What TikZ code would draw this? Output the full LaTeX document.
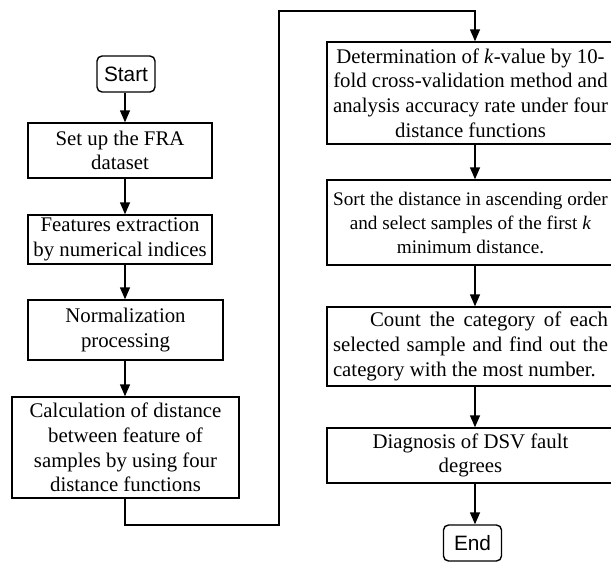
\documentclass[tikz,border=0pt]{standalone}
\usepackage{fontspec}
\setmainfont{Liberation Serif}
\newfontfamily\termfont{Liberation Sans}
\usetikzlibrary{arrows.meta}

\tikzset{
  proc/.style={draw, line width=0.7pt, align=center, inner sep=1pt,
    font=\fontsize{10.4}{12.3}\selectfont},
  term/.style={draw, line width=0.7pt, rounded corners=2.5pt, inner sep=1pt,
    minimum width=29pt, minimum height=18pt, font=\termfont\fontsize{10.4}{12}\selectfont},
  flow/.style={line width=0.7pt, -{Triangle[length=6pt,width=5pt]}},
}

\begin{document}
\begin{tikzpicture}[x=0.5pt,y=-0.5pt]
\useasboundingbox (0,0) rectangle (611,562);
\clip (0,0) rectangle (611,562);
% ---- left column ----
\node[term] (start) at (126,74) {Start};
\node[proc, minimum width=92pt, minimum height=27.5pt] (setup) at (120,150.5)
  {Set up the FRA\\dataset};
\node[proc, minimum width=92pt, minimum height=24.5pt] (feat) at (120,239.5)
  {Features extraction\\by numerical indices};
\node[proc, minimum width=97.5pt, minimum height=30pt] (norm) at (125.5,330)
  {Normalization\\processing};
\node[proc, minimum width=113.5pt, minimum height=50.5pt] (calc) at (125.5,447.5)
  {Calculation of distance\\between feature of\\samples by using four\\distance functions};
% ---- right column ----
\node[proc, minimum width=143.5pt, minimum height=51pt] (det) at (470.5,93)
  {Determination of \textit{k}-value by 10-\\fold cross-validation method and\\analysis accuracy rate under four\\distance functions};
\node[proc, font=\fontsize{9.6}{12}\selectfont, minimum width=143.5pt, minimum height=42.5pt] (sort) at (470.5,222.5)
  {Sort the distance in ascending order\\and select samples of the first \textit{k}\\minimum distance.};
\node[proc, align=left, minimum width=143.5pt, minimum height=39.5pt, inner xsep=3pt] (count) at (470.5,346.5)
  {\makebox[137.5pt][s]{\hspace*{18.5pt}Count the category of each}\\
   \makebox[137.5pt][s]{selected sample and find out the}\\
   category with the most number.};
\node[proc, minimum width=143.5pt, minimum height=27.5pt] (diag) at (470.5,455.5)
  {Diagnosis of DSV fault\\degrees};
\node[term] (end) at (472.5,543) {End};
% ---- connectors ----
\coordinate (colL) at (125,0);
\coordinate (colR) at (475,0);
\coordinate (loopA) at (279,525);
\coordinate (loopB) at (279,11);
\foreach \a/\b in {start/setup,setup/feat,feat/norm,norm/calc}
  \draw[flow] (\a.south -| colL) -- (\b.north -| colL);
\draw[flow] (calc.south -| colL) |- (loopA) -- (loopB) -| (det.north -| colR);
\foreach \a/\b in {det/sort,sort/count,count/diag,diag/end}
  \draw[flow] (\a.south -| colR) -- (\b.north -| colR);
\end{tikzpicture}
\end{document}
